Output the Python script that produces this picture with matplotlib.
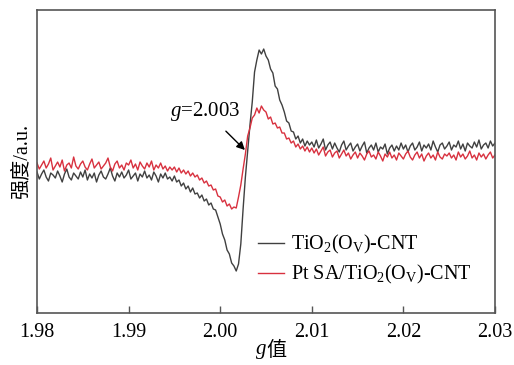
import numpy as np
import matplotlib.pyplot as plt

plt.rcParams['font.family'] = ['Liberation Serif', 'Noto Sans CJK SC']
plt.rcParams['mathtext.fontset'] = 'custom'
plt.rcParams['mathtext.rm'] = 'Liberation Serif'
plt.rcParams['mathtext.it'] = 'Liberation Serif:italic'

# g values of the sweep (1.98 ... 2.03, 201 points)
g = np.linspace(1.98, 2.03, 201)

# TiO2(Ov)-CNT, intensity a.u.
tio2 = [141, 134, 139, 143, 136, 132, 140, 138, 135, 142, 137, 131, 139, 144, 136, 133, 140, 137, 134, 141,
        136, 143, 133, 139, 135, 140, 131, 138, 142, 136, 134, 139, 145, 137, 132, 140, 136, 141, 135, 138,
        143, 134, 137, 140, 132, 139, 136, 142, 135, 138, 133, 141, 137, 131, 139, 135, 140, 134, 136, 132,
        137, 131, 133, 127, 130, 124, 127, 121, 125, 119,
        120, 115, 118, 112, 114, 108, 110, 104, 103, 96,
        89, 79, 73, 63, 59, 50, 47, 42, 49, 69,
        104, 136, 162, 188, 211, 241, 253, 263, 259, 264,
        257, 253, 244, 240, 227, 224, 213, 208, 201, 192,
        190, 182, 181, 174, 177, 170, 174, 167, 172, 168,
        171, 166, 173, 165, 169, 174, 163, 168, 171, 164, 170, 165, 161, 168, 172, 163, 167, 170, 162, 166,
        169, 162, 167, 171, 160, 165, 168, 163, 170, 161, 166, 164, 169, 159, 165, 168, 162, 167, 163, 170,
        164, 168, 161, 167, 170, 163, 166, 171, 162, 168, 165, 169, 163, 172, 166, 161, 168, 170, 164, 167,
        171, 163, 168, 166, 172, 164, 169, 162, 170, 167, 165, 171, 166, 173, 164, 168, 170, 165, 172, 167, 170]

# Pt SA/TiO2(Ov)-CNT
pt_sa = [150, 144, 148, 152, 145, 149, 155, 143, 147, 151, 146, 153, 142, 148, 150, 145, 156, 147, 144, 149,
         152, 146, 143, 149, 154, 145, 148, 151, 144, 147, 150, 155, 146, 142, 149, 152, 145, 148, 143, 150,
         148, 153, 145, 149, 143, 151, 147, 144, 150, 146, 152, 143, 148, 145, 150, 144, 147, 142, 146, 143,
         146, 141, 145, 140, 143, 139, 142, 137, 140, 136,
         138, 133, 135, 130, 132, 127, 128, 123, 124, 117,
         116, 111, 113, 107, 109, 104, 106, 105, 116, 128,
         144, 159, 177, 185, 195, 198, 205, 200, 207, 203,
         201, 194, 196, 189, 190, 185, 186, 180, 180, 174,
         175, 170, 172, 166, 169, 164, 167, 162, 166, 161,
         165, 160, 164, 158, 162, 166, 157, 161, 163, 156, 160, 162, 155, 159, 163, 157, 160, 154, 158, 161,
         155, 160, 157, 153, 159, 162, 156, 158, 154, 161, 157, 152, 159, 156, 161, 155, 158, 153, 160, 157,
         154, 159, 162, 156, 153, 158, 161, 155, 159, 152, 157, 160, 155, 158, 153, 161, 156, 154, 159, 157,
         160, 155, 158, 153, 161, 156, 159, 154, 157, 162, 155, 158, 153, 160, 156, 159, 154, 158, 161, 155, 158]

xticks = [1.98, 1.99, 2.00, 2.01, 2.02, 2.03]

fig = plt.figure(figsize=(5.14, 3.65), dpi=100)
ax = fig.add_axes([0.072, 0.1425, 0.891, 0.830])

ax.plot(g, tio2, color='#404040', lw=1.0, label=r'TiO$_2$(O$_\mathrm{V}$)-CNT')
ax.plot(g, pt_sa, color='#d8313f', lw=1.0, label=r'Pt SA/TiO$_2$(O$_\mathrm{V}$)-CNT')

ax.annotate(r'$g$=2.003', xy=(2.0027, 163), xytext=(1.9984, 202),
            fontsize=15, ha='center', va='center',
            arrowprops=dict(arrowstyle='-|>', color='black', lw=1, shrinkA=6, shrinkB=0,
                            mutation_scale=12))

ax.set_xlim(1.98, 2.03)
ax.set_ylim(0, 303)
ax.set_xticks(xticks)
ax.set_xticklabels(['%.2f' % t for t in xticks])
ax.set_yticks([])
ax.tick_params(axis='x', direction='in', length=5, width=1, labelsize=14.5, pad=7, color='#555555')
for s in ax.spines.values():
    s.set_color('#555555')
    s.set_linewidth(1.2)

# x label "g值": italic g + CJK character (mathtext has no CJK fallback)
ax.text(0.5, -0.09, 'g', transform=ax.transAxes, fontsize=15, style='italic',
        family='Liberation Serif', ha='right', va='top')
ax.text(0.5, -0.09, '值', transform=ax.transAxes, fontsize=14.5,
        family='Noto Sans CJK SC', ha='left', va='top')
ax.set_ylabel('强度/a.u.', fontsize=14.5, labelpad=4)

ax.legend(loc='upper left', bbox_to_anchor=(0.465, 0.29), frameon=False, fontsize=14.5,
          handlelength=1.3, handletextpad=0.35, borderaxespad=0, labelspacing=0.35)

fig.savefig('out.png', dpi=100)
